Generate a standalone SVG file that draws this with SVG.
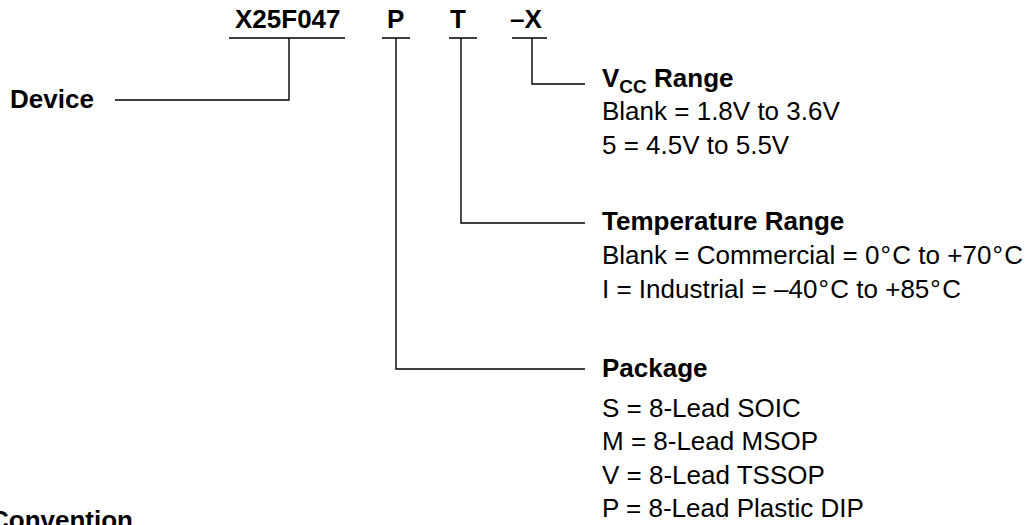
<svg xmlns="http://www.w3.org/2000/svg" width="1030" height="525" viewBox="0 0 1030 525">
<style>
.b{font-family:"Liberation Sans",Arial,sans-serif;font-weight:bold;font-size:26px;fill:#000}
.r{font-family:"Liberation Sans",Arial,sans-serif;font-size:26px;fill:#000}
.ln{stroke:#000;stroke-width:1.4;fill:none}
</style>
<rect width="1030" height="525" fill="#fff"/>
<g id="code">
<text class="b" x="235" y="28">X25F047</text>
<text class="b" x="387" y="28">P</text>
<text class="b" x="450" y="28">T</text>
<text class="b" x="510" y="28">–X</text>
</g>
<g id="device"><text class="b" x="10" y="108">Device</text></g>
<g id="vcc">
<text class="b" x="602" y="87">V<tspan font-size="19" dy="6">CC</tspan><tspan dy="-6"> Range</tspan></text>
<text class="r" x="602" y="120">Blank = 1.8V to 3.6V</text>
<text class="r" x="602" y="154">5 = 4.5V to 5.5V</text>
</g>
<g id="temperature">
<text class="b" x="602" y="230">Temperature Range</text>
<text class="r" x="602" y="264">Blank = Commercial = 0<tspan dx="1">°</tspan><tspan dx="1.5">C</tspan> to +70<tspan dx="1">°</tspan><tspan dx="1.5">C</tspan></text>
<text class="r" x="602" y="298">I = Industrial = –40<tspan dx="1">°</tspan><tspan dx="1.5">C</tspan> to +85<tspan dx="1">°</tspan><tspan dx="1.5">C</tspan></text>
</g>
<g id="package">
<text class="b" x="602" y="377">Package</text>
<text class="r" x="602" y="417">S = 8-Lead SOIC</text>
<text class="r" x="602" y="450">M = 8-Lead MSOP</text>
<text class="r" x="602" y="484">V = 8-Lead TSSOP</text>
<text class="r" x="602" y="517">P = 8-Lead Plastic DIP</text>
</g>
<g id="convention"><text class="b" x="-10" y="529">Convention</text></g>
<g id="connectors">
<path class="ln" d="M229 38H345M289 38V100H115"/>
<path class="ln" d="M382 38H410M396 38V369H585"/>
<path class="ln" d="M449 38H477M461 38V223H585"/>
<path class="ln" d="M512 38H547M532 38V84H585"/>
</g>
</svg>
